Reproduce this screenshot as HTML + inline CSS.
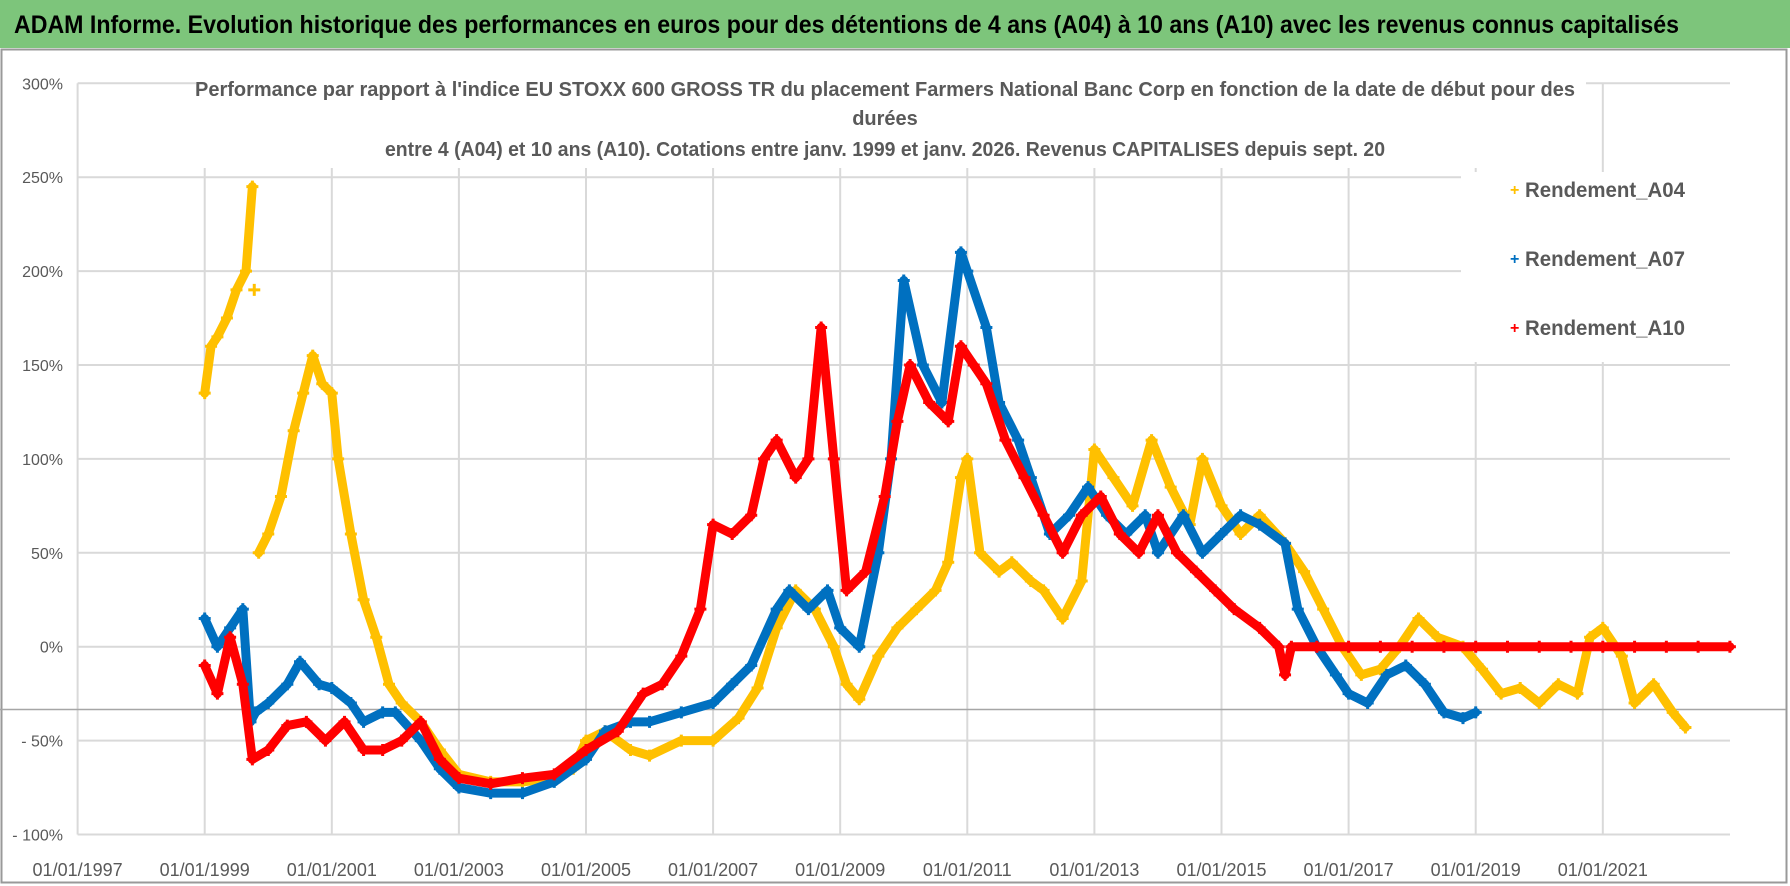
<!DOCTYPE html>
<html><head><meta charset="utf-8">
<style>
body{margin:0;background:#fff;}
svg{display:block;font-family:"Liberation Sans Narrow","Liberation Sans",sans-serif;}
</style></head>
<body>
<svg id="chart" width="1790" height="886" viewBox="0 0 1790 886">
<rect x="0" y="0" width="1790" height="886" fill="#fff"/>
<rect x="0" y="0" width="1790" height="48" fill="#7dc57b"/>
<text x="14" y="33" font-size="25" font-weight="bold" fill="#000" textLength="1665" lengthAdjust="spacingAndGlyphs">ADAM Informe. Evolution historique des performances en euros pour des détentions de 4 ans (A04) à 10 ans (A10) avec les revenus connus capitalisés</text>
<rect x="1.5" y="49.5" width="1785" height="833" fill="none" stroke="#999" stroke-width="2"/>
<g id="grid"></g>
<g id="marks"></g>
<rect x="196" y="70" width="1390" height="98" fill="#fff"/>
<g font-weight="bold" fill="#595959" font-size="20" text-anchor="middle">
<text x="885" y="96" textLength="1380" lengthAdjust="spacingAndGlyphs">Performance par rapport à l'indice EU STOXX 600 GROSS TR  du placement Farmers National Banc Corp en fonction de la date de début pour des</text>
<text x="885" y="125">durées</text>
<text x="885" y="156" textLength="1000" lengthAdjust="spacingAndGlyphs">entre 4 (A04) et 10 ans (A10).  Cotations entre janv. 1999 et janv. 2026. Revenus CAPITALISES depuis sept. 20</text>
</g>
<rect x="1461" y="172" width="275" height="190" fill="#fff"/>
<g font-size="21" font-weight="bold" fill="#595959">
<g><text x="1510" y="195" fill="#ffc000" font-size="16">+</text><text x="1525" y="197" textLength="160" lengthAdjust="spacingAndGlyphs">Rendement_A04</text></g>
<g><text x="1510" y="264" fill="#0070c0" font-size="16">+</text><text x="1525" y="266" textLength="160" lengthAdjust="spacingAndGlyphs">Rendement_A07</text></g>
<g><text x="1510" y="333" fill="#ff0000" font-size="16">+</text><text x="1525" y="335" textLength="160" lengthAdjust="spacingAndGlyphs">Rendement_A10</text></g>
</g>
<g id="axes"></g>
</svg>
<script>
// ---- data ----
const yTicks = [300,250,200,150,100,50,0,-50,-100];
const yTickLabels = ["300%","250%","200%","150%","100%","50%","0%","- 50%","- 100%"];
const xTickYears = [1997,1999,2001,2003,2005,2007,2009,2011,2013,2015,2017,2019,2021];
const xTickLabels = ["01/01/1997","01/01/1999","01/01/2001","01/01/2003","01/01/2005","01/01/2007","01/01/2009","01/01/2011","01/01/2013","01/01/2015","01/01/2017","01/01/2019","01/01/2021"];

const a04Dates = [1999.0,1999.1,1999.2,1999.35,1999.5,1999.65,1999.75,1999.78,1999.85,2000.0,2000.2,2000.4,2000.55,2000.7,2000.85,2001.0,2001.1,2001.3,2001.5,2001.7,2001.9,2002.1,2002.4,2002.7,2003.0,2003.5,2004.0,2004.5,2004.8,2005.0,2005.3,2005.7,2006.0,2006.5,2007.0,2007.4,2007.7,2008.0,2008.3,2008.6,2008.9,2009.1,2009.3,2009.6,2009.9,2010.2,2010.5,2010.7,2010.9,2011.0,2011.2,2011.5,2011.7,2012.0,2012.2,2012.5,2012.8,2013.0,2013.3,2013.6,2013.9,2014.2,2014.5,2014.7,2015.0,2015.3,2015.6,2016.0,2016.3,2016.6,2016.9,2017.2,2017.5,2017.8,2018.1,2018.4,2018.8,2019.1,2019.4,2019.7,2020.0,2020.3,2020.6,2020.8,2021.0,2021.3,2021.5,2021.8,2022.1,2022.3];
const a04Values = [135,160,165,175,190,200,245,190,50,60,80,115,135,155,140,135,100,60,25,5,-20,-30,-40,-55,-68,-72,-72,-70,-65,-50,-45,-55,-58,-50,-50,-38,-22,10,30,20,0,-20,-28,-5,10,20,30,45,90,100,50,40,45,35,30,15,35,105,90,75,110,85,65,100,75,60,70,55,40,20,0,-15,-12,0,15,5,0,-12,-25,-22,-30,-20,-25,5,10,-5,-30,-20,-35,-43];

const a07Dates = [1999.0,1999.2,1999.4,1999.6,1999.72,1999.8,2000.0,2000.3,2000.5,2000.8,2001.0,2001.3,2001.5,2001.8,2002.0,2002.4,2002.7,2003.0,2003.5,2004.0,2004.5,2005.0,2005.3,2005.7,2006.0,2006.5,2007.0,2007.3,2007.6,2008.0,2008.2,2008.5,2008.8,2009.0,2009.3,2009.6,2009.8,2010.0,2010.3,2010.6,2010.9,2011.0,2011.3,2011.5,2011.8,2012.0,2012.3,2012.6,2012.9,2013.2,2013.5,2013.8,2014.0,2014.4,2014.7,2015.0,2015.3,2015.6,2016.0,2016.2,2016.5,2016.8,2017.0,2017.3,2017.6,2017.9,2018.2,2018.5,2018.8,2019.0];
const a07Values = [15,0,10,20,-40,-35,-30,-20,-8,-20,-22,-30,-40,-35,-35,-50,-65,-75,-78,-78,-72,-60,-45,-40,-40,-35,-30,-20,-10,20,30,20,30,10,0,50,100,195,150,130,210,200,170,130,110,90,60,70,85,70,60,70,50,70,50,60,70,65,55,20,0,-15,-25,-30,-15,-10,-20,-35,-38,-35];

const a10Dates = [1999.0,1999.2,1999.4,1999.6,1999.75,2000.0,2000.3,2000.6,2000.9,2001.2,2001.5,2001.8,2002.1,2002.4,2002.7,2003.0,2003.5,2004.0,2004.5,2005.0,2005.5,2005.9,2006.2,2006.5,2006.8,2007.0,2007.3,2007.6,2007.8,2008.0,2008.3,2008.5,2008.7,2008.9,2009.1,2009.4,2009.7,2009.9,2010.1,2010.4,2010.7,2010.9,2011.1,2011.3,2011.6,2011.9,2012.2,2012.5,2012.8,2013.1,2013.4,2013.7,2014.0,2014.3,2014.6,2014.9,2015.2,2015.6,2015.9,2016.0,2016.1,2016.5,2017.0,2017.5,2018.0,2018.5,2019.0,2019.5,2020.0,2020.5,2021.0,2021.5,2022.0,2022.5,2023.0];
const a10Values = [-10,-25,5,-20,-60,-55,-42,-40,-50,-40,-55,-55,-50,-40,-60,-70,-73,-70,-68,-55,-45,-25,-20,-5,20,65,60,70,100,110,90,100,170,100,30,40,80,120,150,130,120,160,150,140,110,90,70,50,70,80,60,50,70,50,40,30,20,10,0,-15,0,0,0,0,0,0,0,0,0,0,0,0,0,0,0];

// ---- scales ----
const X0=77.6, XPER=63.55, YZ=646.7, YPER=1.878;
const xs = yr => X0 + (yr-1997)*XPER;
const ys = v => YZ - v*YPER;
const PLOT_R = 1730;
const NS="http://www.w3.org/2000/svg";
function mk(tag, attrs, parent){const e=document.createElementNS(NS,tag);for(const k in attrs)e.setAttribute(k,attrs[k]);parent.appendChild(e);return e;}

const grid=document.getElementById('grid'), axes=document.getElementById('axes'), marks=document.getElementById('marks');
yTicks.forEach((v,i)=>{
  const l=mk('line',{x1:X0,x2:PLOT_R,y1:ys(v),y2:ys(v),stroke:'#d9d9d9','stroke-width':2},grid);
  
  
  const t=mk('text',{x:63,y:ys(v)+6,'text-anchor':'end','font-size':16,fill:'#595959'},axes);
  t.textContent=yTickLabels[i];
  
  
});
xTickYears.forEach((yr,i)=>{
  const l=mk('line',{x1:xs(yr),x2:xs(yr),y1:ys(300),y2:ys(-100),stroke:'#d9d9d9','stroke-width':2},grid);
  
  
  const t=mk('text',{x:xs(yr),y:876,'text-anchor':'middle','font-size':18,fill:'#595959'},axes);
  t.textContent=xTickLabels[i];
  
  
});
const refLine=mk('line',{x1:0,x2:1786,y1:709.5,y2:709.5,stroke:'#a6a6a6','stroke-width':1.5},grid);



function series(dates, vals, color, name){
  const g=mk('g',{},marks);
  
  
  for(let i=1;i<dates.length;i++){
    const dv=Math.abs(vals[i]-vals[i-1]), dt=dates[i]-dates[i-1];
    if(dv>45 && dv/dt>1000) continue;
    const s=mk('line',{x1:xs(dates[i-1]),y1:ys(vals[i-1]),x2:xs(dates[i]),y2:ys(vals[i]),stroke:color,'stroke-width':9,'stroke-linecap':'round'},g);
    
    
  }
  dates.forEach((d,i)=>{
    const x=xs(d), y=ys(vals[i]);
    const p=mk('path',{d:`M${x-6} ${y}H${x+6}M${x} ${y-6}V${y+6}`,stroke:color,'stroke-width':3},g);
    
    
  });
}
series(a04Dates,a04Values,'#ffc000','series-a04');
series(a07Dates,a07Values,'#0070c0','series-a07');
series(a10Dates,a10Values,'#ff0000','series-a10');
</script>
</body></html>
